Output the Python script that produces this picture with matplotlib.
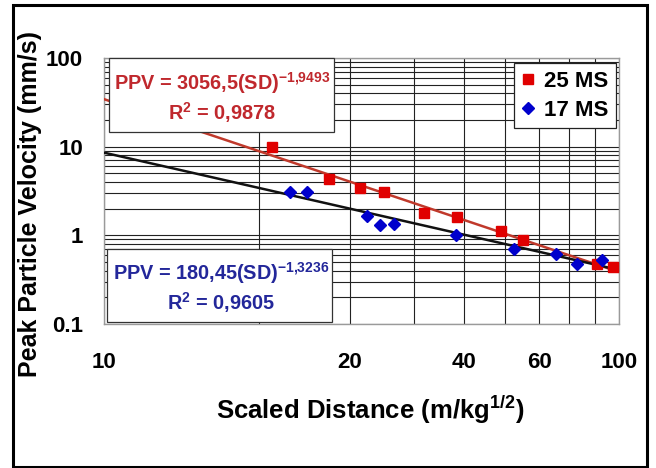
import numpy as np
import matplotlib
matplotlib.use("Agg")
import matplotlib.pyplot as plt
from matplotlib.patches import Rectangle
from matplotlib.ticker import FixedLocator, LogLocator, NullFormatter

plt.rcParams['font.family'] = ['Liberation Sans', 'DejaVu Sans']
plt.rcParams['font.weight'] = 'bold'
plt.rcParams['mathtext.fontset'] = 'custom'
plt.rcParams['mathtext.rm'] = 'Liberation Sans:bold'
plt.rcParams['mathtext.bf'] = 'Liberation Sans:bold'
plt.rcParams['mathtext.it'] = 'Liberation Sans:bold'
plt.rcParams['mathtext.default'] = 'bf'

# ---- data ----
sd_25 = [21.2, 27.3, 31.4, 34.9, 41.8, 48.5, 58.9, 65.1, 90.8, 97.5]
ppv_25 = [10.0, 4.28, 3.41, 3.12, 1.77, 1.60, 1.12, 0.885, 0.48, 0.443]
sd_17 = [23.0, 24.8, 32.4, 34.3, 36.6, 48.3, 62.4, 75.4, 83.0, 92.6]
ppv_17 = [3.10, 3.10, 1.67, 1.32, 1.35, 1.01, 0.70, 0.62, 0.475, 0.53]
fit_25 = [3056.5, -1.9493]
fit_17 = [180.45, -1.3236]
r2_25 = "0,9878"
r2_17 = "0,9605"
series_labels = ["25 MS", "17 MS"]
xtick_labels = ["10", "20", "40", "60", "100"]
ytick_labels = ["0.1", "1", "10", "100"]
x_title = "Scaled Distance (m/kg$^{1/2}$)"
y_title = "Peak Particle Velocity (mm/s)"

W, H = 656, 468
fig = plt.figure(figsize=(W / 100, H / 100), dpi=100)

def fx(px):
    return px / W

def fy(py):
    return 1 - py / H

L, R, T, B = 104, 619, 58, 324
ax = fig.add_axes([fx(L), fy(B), fx(R) - fx(L), fy(T) - fy(B)])
ax.set_xscale('log')
ax.set_yscale('log')
ax.set_xlim(10, 100)
ax.set_ylim(0.1, 100)

# grid
ax.xaxis.set_minor_locator(LogLocator(base=10, subs=np.arange(2, 10)))
ax.yaxis.set_minor_locator(LogLocator(base=10, subs=np.arange(2, 10)))
ax.xaxis.set_minor_formatter(NullFormatter())
ax.yaxis.set_minor_formatter(NullFormatter())
ax.grid(True, which='both', color='#222222', lw=0.8)
ax.set_axisbelow(True)

# ticks: labels placed where they appear in the reference
xtick_pos = [10, 30, 50, 70, 100]
ax.xaxis.set_major_locator(FixedLocator(xtick_pos))
ax.set_xticks(xtick_pos)
ax.set_xticklabels(xtick_labels)
ax.set_yticks([0.1, 1, 10, 100])
ax.set_yticklabels(ytick_labels)
ax.tick_params(which='both', length=0)
ax.tick_params(axis='x', pad=20, labelsize=16)
ax.tick_params(axis='y', pad=15, labelsize=16)
ax.grid(True, which='major', color='#222222', lw=0.8)
for s in ax.spines.values():
    s.set_color('#9a9a9a')
    s.set_linewidth(1.0)

# fitted lines
xs = np.geomspace(10, 100, 60)
ax.plot(xs, fit_25[0] * xs ** fit_25[1], color='#c0392b', lw=1.8, zorder=3)
ax.plot(xs, fit_17[0] * xs ** fit_17[1], color='#111111', lw=1.8, zorder=3)

# data
ax.plot(sd_25, ppv_25, ls='none', marker='s', ms=7, color='#e00000',
        mec='#e00000', label=series_labels[0], zorder=4)
ax.plot(sd_17, ppv_17, ls='none', marker='D', ms=5.8, color='#0000cc',
        mec='#0000cc', label=series_labels[1], zorder=4)

leg = ax.legend(loc='upper right', bbox_to_anchor=(0.994, 0.981),
                borderaxespad=0, fancybox=False, framealpha=1,
                edgecolor='#222222', prop={'size': 16, 'weight': 'bold'},
                handlelength=0.6, handletextpad=0.4, borderpad=0.35,
                labelspacing=0.35)
leg.get_frame().set_linewidth(0.9)
leg.set_zorder(6)

# equation boxes
red_txt = '#c0282d'
blue_txt = '#23279a'
for (x0, y0, x1, y1) in [(109, 58, 334, 132), (107, 249, 332, 322)]:
    fig.patches.append(Rectangle((fx(x0), fy(y1)), fx(x1) - fx(x0), fy(y0) - fy(y1),
                                 transform=fig.transFigure, facecolor='white',
                                 edgecolor='#333333', lw=0.9, zorder=5))

def fmt_exp(v):
    return ("%.4f" % v).replace('.', '{,}')

def fmt_coef(v):
    return ("%g" % v).replace('.', ',')

eq_size = 14.3
fig.text(fx(222), fy(90), "PPV = %s(SD)$^{%s}$" % (fmt_coef(fit_25[0]), fmt_exp(fit_25[1])),
         color=red_txt, fontsize=eq_size, ha='center', va='baseline', zorder=7)
fig.text(fx(222), fy(120), "R$^{2}$ = %s" % r2_25,
         color=red_txt, fontsize=eq_size, ha='center', va='baseline', zorder=7)
fig.text(fx(221), fy(280), "PPV = %s(SD)$^{%s}$" % (fmt_coef(fit_17[0]), fmt_exp(fit_17[1])),
         color=blue_txt, fontsize=eq_size, ha='center', va='baseline', zorder=7)
fig.text(fx(221), fy(310), "R$^{2}$ = %s" % r2_17,
         color=blue_txt, fontsize=eq_size, ha='center', va='baseline', zorder=7)

# axis titles
fig.text(fx(370), fy(410), x_title, fontsize=18.5, ha='center', va='center')
fig.text(fx(30), fy(204), y_title, fontsize=18, ha='center', va='center', rotation=90)

# outer frame
fig.patches.append(Rectangle((fx(13), fy(467)), fx(647) - fx(13), fy(5) - fy(467),
                             transform=fig.transFigure, facecolor='none',
                             edgecolor='black', lw=2.2, zorder=8))

fig.savefig('out.png', dpi=100, facecolor='white')
